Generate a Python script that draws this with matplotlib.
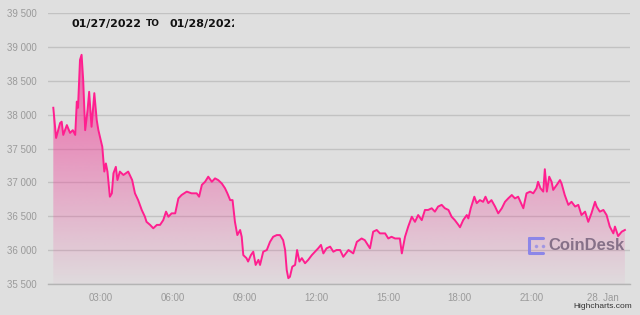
import numpy as np
import matplotlib
matplotlib.use("Agg")
import matplotlib.pyplot as plt
from matplotlib.colors import to_rgb
from matplotlib.lines import Line2D
from matplotlib.transforms import Bbox

# BTC price, minutes after 00:00 on 01/27/2022
minutes = [
    60, 67, 77, 81, 85, 94, 102, 109, 115, 119, 122, 127, 131, 135, 140, 146,
    150, 156, 163, 169, 173, 177, 183, 188, 192, 196, 202, 207, 211, 217, 221,
    227, 236, 248, 258, 265, 273, 282, 290, 294, 303, 311, 320, 328, 336, 343,
    349, 357, 366, 374, 382, 395, 407, 420, 426, 433, 441, 449, 458, 466, 474,
    483, 491, 497, 504, 510, 516, 522, 529, 533, 537, 545, 549, 556, 562, 568,
    575, 579, 587, 596, 604, 612, 621, 629, 637, 642, 646, 650, 654, 660, 667,
    672, 678, 684, 692, 700, 709, 717, 725, 732, 738, 746, 755, 763, 771, 780,
    788, 801, 813, 822, 834, 842, 855, 863, 872, 880, 893, 901, 909, 918, 930,
    935, 943, 951, 960, 968, 976, 985, 993, 1001, 1010, 1018, 1026, 1035, 1043,
    1052, 1060, 1068, 1077, 1081, 1089, 1098, 1102, 1108, 1117, 1123, 1131,
    1139, 1145, 1152, 1160, 1169, 1177, 1186, 1194, 1202, 1211, 1219, 1227,
    1236, 1240, 1248, 1257, 1265, 1273, 1277, 1283, 1290, 1294, 1299, 1305,
    1311, 1315, 1324, 1332, 1336, 1344, 1353, 1361, 1370, 1378, 1386, 1395,
    1403, 1411, 1420, 1424, 1432, 1441, 1449, 1457, 1466, 1470, 1478, 1487, 1495,
]
prices = [
    38100, 37655, 37875, 37895, 37700, 37845, 37730, 37770, 37700, 38190, 38100,
    38805, 38880, 38510, 37770, 38065, 38335, 37820, 38315, 37920, 37775, 37675,
    37525, 37160, 37280, 37160, 36790, 36840, 37135, 37230, 37035, 37160, 37110,
    37160, 37035, 36840, 36740, 36595, 36495, 36420, 36375, 36325, 36375, 36375,
    36445, 36570, 36495, 36545, 36545, 36765, 36815, 36865, 36840, 36840, 36790,
    36965, 37010, 37085, 37010, 37060, 37035, 36985, 36915, 36840, 36740, 36740,
    36420, 36225, 36300, 36200, 35930, 35885, 35835, 35930, 35980, 35785, 35860,
    35785, 35980, 36005, 36125, 36200, 36225, 36225, 36150, 36005, 35710, 35590,
    35610, 35760, 35785, 36005, 35835, 35885, 35810, 35860, 35930, 35980, 36030,
    36080, 35955, 36030, 36055, 35980, 36005, 36005, 35905, 36005, 35955, 36125,
    36175, 36150, 36030, 36275, 36300, 36250, 36250, 36175, 36200, 36175, 36175,
    35955, 36200, 36350, 36495, 36420, 36520, 36445, 36595, 36595, 36620, 36570,
    36645, 36670, 36620, 36595, 36495, 36445, 36375, 36340, 36445, 36520, 36470,
    36620, 36790, 36695, 36740, 36715, 36790, 36695, 36740, 36645, 36545, 36620,
    36715, 36765, 36815, 36765, 36790, 36670, 36620, 36840, 36865, 36840, 36915,
    37010, 36915, 36865, 37195, 36865, 37085, 37010, 36890, 36965, 37035, 36985,
    36815, 36670, 36715, 36645, 36670, 36520, 36570, 36420, 36545, 36715, 36645,
    36570, 36595, 36520, 36350, 36250, 36350, 36210, 36275, 36300,
]
y_ticks = [35500, 36000, 36500, 37000, 37500, 38000, 38500, 39000, 39500]
y_tick_labels = ["35 500", "36 000", "36 500", "37 000", "37 500",
                 "38 000", "38 500", "39 000", "39 500"]
x_ticks = [3, 6, 9, 12, 15, 18, 21, 24]
x_tick_labels = ["03:00", "06:00", "09:00", "12:00", "15:00", "18:00",
                 "21:00", "28. Jan"]

BG = "#dfdfdf"
PINK = "#ff1f8f"

hours = np.array(minutes) / 60.0
vals = np.array(prices, dtype=float)

fig = plt.figure(figsize=(6.4, 3.15), dpi=100, facecolor=BG)
ax = fig.add_axes([48 / 640, 1 - 284.3 / 315, 582 / 640, (284.3 - 12.7) / 315])
ax.set_facecolor(BG)
ax.set_xlim(0.778, 25.13)
ax.set_ylim(35500, 39500)

# gradient fill under the line
poly = ax.fill_between(hours, vals, 35500, color="none", lw=0)
n = 256
rgba = np.zeros((n, 1, 4))
rgba[..., :3] = to_rgb("#f0449a")
rgba[:, 0, 3] = np.linspace(0.8, 0.03, n)
img = ax.imshow(rgba, extent=[hours[0], hours[-1], 35500, vals.max()],
                aspect="auto", origin="upper", zorder=2, interpolation="bilinear")
img.set_clip_path(poly.get_paths()[0], transform=ax.transData)
ax.plot(hours, vals, color=PINK, lw=1.4, zorder=3, solid_joinstyle="round")

ax.set_yticks(y_ticks)
ax.set_yticklabels(y_tick_labels)
ax.set_xticks(x_ticks)
ax.set_xticklabels(x_tick_labels)
ax.tick_params(length=0, labelcolor="#9a9a9a", labelsize=7)
ax.tick_params(axis="y", pad=8)
ax.tick_params(axis="x", pad=6)
for lab in ax.get_xticklabels() + ax.get_yticklabels():
    lab.set_fontfamily("Liberation Sans")
ax.grid(axis="y", color="#c2c2c2", lw=1)
ax.set_axisbelow(True)
for s in ["top", "right", "left"]:
    ax.spines[s].set_visible(False)
ax.spines["bottom"].set_color("#b4b4b4")
ax.spines["bottom"].set_linewidth(1)

# title, cut off at the right like the original
clip = Bbox.from_extents(0, 0, 234, 315)
for txt, x, size in [("01/27/2022", 72, 8), ("TO", 146, 6.5), ("01/28/2022", 169, 8)]:
    t = fig.text(x / 640, 1 - 24 / 315, txt, fontsize=size, fontweight="bold",
                 color="#111111", va="center", ha="left")
    t.set_clip_box(clip)
    t.set_clip_on(True)

# CoinDesk watermark
dot = "#8c86e8"
fig.add_artist(Line2D([529 / 640, 529 / 640, 543 / 640], [1 - 238 / 315, 1 - 253 / 315, 1 - 253 / 315],
                      color=dot, lw=2.2, solid_capstyle="round"))
fig.add_artist(Line2D([529 / 640, 543 / 640], [1 - 238 / 315, 1 - 238 / 315],
                      color=dot, lw=2.2, solid_capstyle="round"))
fig.add_artist(Line2D([536 / 640, 543 / 640], [1 - 245.5 / 315, 1 - 245.5 / 315],
                      color=dot, lw=0, marker="o", ms=1.6, alpha=0.6))
fig.text(548 / 640, 1 - 246 / 315, "CoinDesk", fontsize=12, fontweight="bold",
         family="Liberation Sans", color="#76627c", alpha=0.85, va="center", ha="left")

fig.text(632 / 640, 1 - 306 / 315, "Highcharts.com", fontsize=6,
         family="Liberation Sans", color="#333333", ha="right", va="center")

fig.savefig("out.png", dpi=100, facecolor=BG)
